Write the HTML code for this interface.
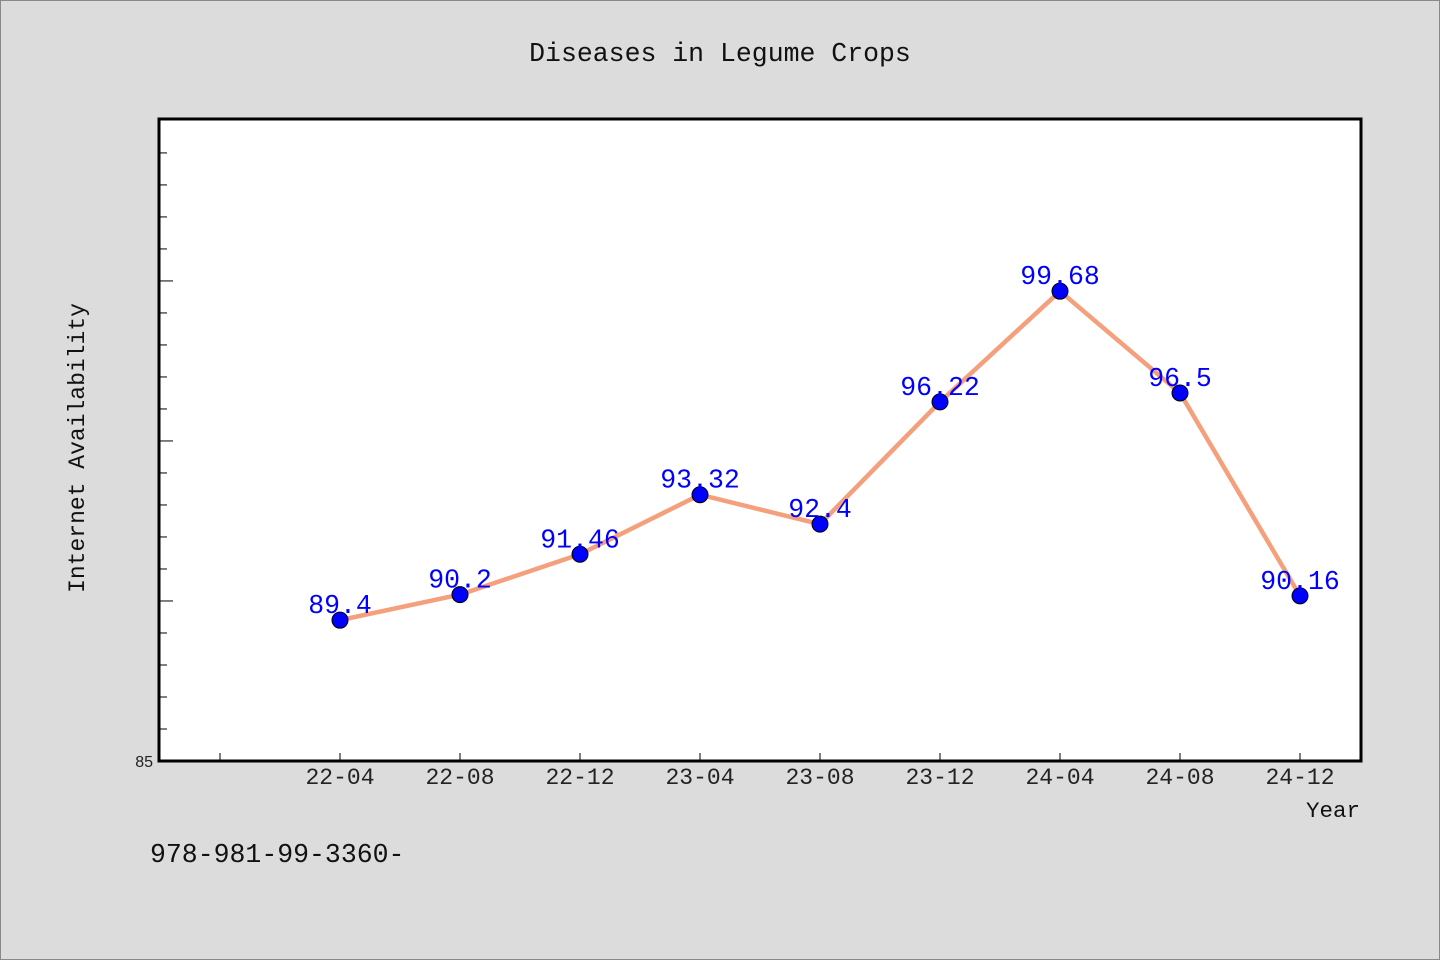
<!DOCTYPE html>
<html><head><meta charset="utf-8"><style>
body{margin:0;background:#dcdcdc;}
svg{display:block;font-family:"Liberation Mono","Noto Sans CJK SC",monospace;}
</style></head><body>
<svg id="c" width="1440" height="960" xmlns="http://www.w3.org/2000/svg">
<rect x="0.5" y="0.5" width="1439" height="959" fill="#dcdcdc" stroke="#888"/>
<text x="720" y="61" text-anchor="middle" font-size="26.5" fill="#111">Diseases in Legume Crops</text>
<rect x="159" y="119" width="1202" height="642" fill="#fff" stroke="#000" stroke-width="3"/>
<text transform="translate(84,448) rotate(-90)" text-anchor="middle" font-size="23" fill="#111">Internet Availability</text>
<text x="1360" y="817" text-anchor="end" font-size="22.5" fill="#111">Year</text>
<text x="150" y="862" font-size="26.5" fill="#111">978-981-99-3360-</text>
<g id="ticks"></g><g id="marks"></g>
</svg>
<script>
const categories=["22-04","22-08","22-12","23-04","23-08","23-12","24-04","24-08","24-12"];
const values=[89.4,90.2,91.46,93.32,92.4,96.22,99.68,96.5,90.16];
const labels=["89.4","90.2","91.46","93.32","92.4","96.22","99.68","96.5","90.16"];
const yMin=85,yMax=105.06;
const NS="http://www.w3.org/2000/svg";
const x=i=>340+120*i;
const y=v=>761-(v-yMin)/(yMax-yMin)*642;
function mk(t,a,p){const e=document.createElementNS(NS,t);for(const k in a)e.setAttribute(k,a[k]);p.appendChild(e);return e;}
const T=document.getElementById('ticks'),M=document.getElementById('marks');
for(let v=yMin+1;v<yMax-0.5;v++){const yy=y(v);const major=(v-yMin)%5===0;
const l=mk('line',{x1:159,x2:159+(major?14:8),y1:yy,y2:yy,stroke:'#000','stroke-width':1},T);

}
const yl=mk('text',{x:153,y:767,'text-anchor':'end','font-size':16,fill:'#222','font-family':'Liberation Sans, sans-serif'},T);yl.textContent='85';


for(let i=-1;i<categories.length;i++){const xx=x(i);
const l=mk('line',{x1:xx,x2:xx,y1:761,y2:753,stroke:'#000','stroke-width':1},T);


if(i>=0){const t=mk('text',{x:xx,y:784,'text-anchor':'middle','font-size':23,fill:'#222'},T);t.textContent=categories[i];

}}
const pl=mk('polyline',{points:values.map((v,i)=>x(i)+','+y(v)).join(' '),fill:'none',stroke:'#f4a07c','stroke-width':4.5,'stroke-linejoin':'round'},M);


values.forEach((v,i)=>{
const c=mk('circle',{cx:x(i),cy:y(v),r:8,fill:'#0000ff',stroke:'#000','stroke-width':1},M);


const t=mk('text',{x:x(i),y:y(v)-7,'text-anchor':'middle','font-size':26.5,fill:'#0000ff'},M);t.textContent=labels[i];


});
</script>
</body></html>
